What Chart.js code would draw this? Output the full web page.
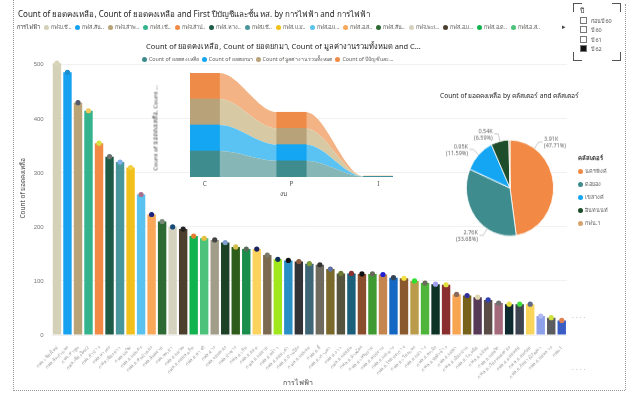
<!DOCTYPE html>
<html lang="th">
<head>
<meta charset="UTF-8">
<title>การไฟฟ้า</title>
<script src="https://cdn.jsdelivr.net/npm/chart.js@4.4.1/dist/chart.umd.min.js"></script>
<style>
  body { margin: 0; width: 629px; height: 396px; background: #fff; position: relative; overflow: hidden;
         font-family: "Noto Sans", "DejaVu Sans", sans-serif; color: #333; }
  .abs { position: absolute; white-space: nowrap; }
  canvas { position: absolute; }
  .dot { display: inline-block; width: 5px; height: 5px; border-radius: 50%; margin: 0 2px 0 4px; vertical-align: -0.5px; }
  .rot { transform: rotate(-90deg); transform-origin: center; }
</style>
</head>
<body>
<!-- frame of the visual -->
<div class="abs" style="left:13px;top:0;height:391px;border-left:1px dotted #9a9a9a"></div>
<div class="abs" style="left:13px;top:390px;width:612px;border-top:1px dotted #9a9a9a"></div>
<div class="abs" style="left:625px;top:4px;height:386px;border-left:1px dotted #9a9a9a"></div>

<canvas id="barras" width="629" height="396" style="left:0;top:0"></canvas>
<canvas id="ribbon" width="265" height="125" style="left:140px;top:68px"></canvas>
<canvas id="pastel" width="160" height="140" style="left:430px;top:120px;transform:scaleY(1.1);transform-origin:0 0"></canvas>

<div class="abs" style="left:18px;top:8px;font-size:8px;color:#252423">Count of ยอดคงเหลือ, Count of ยอดคงเหลือ and First ปีบัญชีและชั้น หส. by การไฟฟ้า and การไฟฟ้า</div>
<div class="abs" id="leyenda" style="left:17px;top:23px;font-size:5.5px;color:#605e5c"></div>
<div class="abs" style="left:562px;top:22px;font-size:7px;color:#444">▸</div>

<div class="abs rot" style="left:-22px;top:183px;width:90px;text-align:center;font-size:6.5px;color:#444">Count of ยอดคงเหลือ</div>
<div class="abs" style="left:283px;top:377px;font-size:7px;color:#444">การไฟฟ้า</div>
<div class="abs" style="left:572px;top:313px;font-size:7px;color:#bbb;letter-spacing:2px">····</div>
<div class="abs" style="left:572px;top:365px;font-size:7px;color:#bbb;letter-spacing:2px">····</div>

<div class="abs" style="left:146px;top:40px;font-size:7.5px;color:#252423">Count of ยอดคงเหลือ, Count of ยอดยกมา, Count of มูลค่างานรวมทั้งหมด and C...</div>
<div class="abs" id="leyendaRibbon" style="left:142px;top:55px;font-size:5.3px;color:#605e5c"></div>
<div class="abs rot" style="left:108px;top:123px;width:95px;text-align:center;font-size:6px;color:#444">Count of ยอดคงเหลือ, Count ...</div>
<div class="abs" style="left:280px;top:189px;font-size:6.5px;color:#444">งบ</div>

<div class="abs" style="left:440px;top:90px;font-size:6.6px;color:#252423">Count of ยอดคงเหลือ by คลัสเตอร์ and คลัสเตอร์</div>
<div class="abs" id="leyendaPastel" style="left:578px;top:152px;font-size:5.5px;color:#605e5c;line-height:13px"></div>

<!-- slicer -->
<div class="abs" style="left:573px;top:3px;width:8px;height:8px;border-left:1px solid #555;border-top:1px solid #555"></div>
<div class="abs" style="left:612px;top:3px;width:8px;height:8px;border-right:1px solid #555;border-top:1px solid #555"></div>
<div class="abs" style="left:573px;top:52px;width:8px;height:8px;border-left:1px solid #555;border-bottom:1px solid #555"></div>
<div class="abs" style="left:612px;top:52px;width:8px;height:8px;border-right:1px solid #555;border-bottom:1px solid #555"></div>
<div class="abs" id="slicer" style="left:580px;top:6px;font-size:5.5px;color:#555;line-height:9.5px"></div>

<script>
// ---- datos: conteo por การไฟฟ้า ----
const oficinas = ["กฟจ.เชียงใหม่", "กฟส.สันกำแพง", "กฟจ.ลำพูน", "กฟส.เชียงใหม่2", "กฟจ.ลำปาง", "กฟส.หางดง",
  "กฟส.เชียงดาว", "กฟส.แม่ริม", "กฟส.อ.แม่แตง", "กฟส.อ.สันป่าตอง", "กฟส.สันทราย", "กฟจ.พะเยา",
  "กฟส.อ.แม่ทะ", "กฟส.อ.ดอยสะเก็ด", "กฟส.อ.สารภี", "กฟส.ฝาง", "กฟส.จอมทอง", "กฟส.ป่าซาง",
  "กฟส.อ.เถิน", "กฟส.อ.ฮอด", "กฟส.อ.แม่อาย", "กฟส.อ.พร้าว", "กฟส.อ.ดอยเต่า", "กฟส.อ.บ้านโฮ่ง",
  "กฟส.อ.แม่แจ่ม", "กฟส.อ.ลี้", "กฟส.อ.เกาะคา", "กฟส.อ.งาว", "กฟส.อ.แม่ออน", "กฟส.อ.ห้างฉัตร",
  "กฟส.อ.เสริมงาม", "กฟส.อ.สบปราบ", "กฟส.อ.แม่เมาะ", "กฟส.อ.ไชยปราการ", "กฟส.อ.เวียงแหง", "กฟส.อ.แม่วาง",
  "กฟส.อ.สะเมิง", "กฟส.อ.ทุ่งหัวช้าง", "กฟส.อ.แม่ทา", "กฟส.อ.เมืองปาน", "กฟส.อ.วังเหนือ", "กฟส.อ.แจ้ห่ม",
  "กฟส.อ.แม่พริก", "กฟส.อ.เวียงหนองล่อง", "กฟส.อ.ดอยหล่อ", "กฟส.อ.อมก๋อย", "กฟส.อ.กัลยาณิวัฒนา", "กฟส.อ.บ่อหลวง",
  "กฟน.1"];
const conteo = [503, 486, 430, 415, 355, 330, 320, 310, 260, 223, 210, 200, 196, 183, 179, 176, 171, 163,
  159, 159, 148, 140, 138, 136, 132, 130, 122, 114, 114, 113, 113, 112, 106, 105, 100, 96, 94, 93,
  75, 73, 70, 65, 59, 57, 57, 57, 35, 32, 27];
const ticksY = [0, 100, 200, 300, 400, 500];

const coloresBarras = ["#d4d1b8", "#17a2f0", "#b9a477", "#34b38c", "#f28a45", "#1d5b46", "#48979b", "#f2c01b",
  "#59c2ef", "#f9a85a", "#2e6a34", "#d5d3bf", "#4c3f2e", "#10b34f", "#4dc27a", "#a29d88", "#1c4127",
  "#2e5d1b", "#1c8e4c", "#fdd35d", "#7b6a4f", "#a0e81b", "#2a8fc4", "#323337", "#3e6677", "#6f6a5e",
  "#7b692b", "#56543f", "#1b5f7b", "#8b4e2d", "#3e9a31", "#c4854f", "#1467c2", "#8a592d", "#b99b4b",
  "#4eb43a", "#0f3226", "#8b2e2f", "#f8a552", "#76621b", "#553956", "#5b4b47", "#a46a7c", "#0e2a2f",
  "#3e4550", "#fad55c", "#8da0ea", "#5a5c60", "#3a5cc5"];
const coloresPuntos = ["#d9d4b8", "#1a8fd0", "#555a6a", "#f5c85a", "#d8e040", "#6b7070", "#7fb0e8", "#f0d040",
  "#a8708a", "#1a237e", "#7a8a7a", "#1a4a7a", "#222222", "#e08030", "#e8c040", "#444444", "#7fa0d0",
  "#d8c050", "#5a6a5a", "#1a2060", "#7a7a6a", "#10305a", "#111111", "#8a5a3a", "#7a9a3a", "#333333",
  "#6070a0", "#6a7a30", "#8a3030", "#111111", "#6a6a5a", "#2020d0", "#334455", "#f0e040", "#30e030",
  "#6a6a5a", "#a0a0f0", "#e0e040", "#8a6a5a", "#3030a0", "#e0d8b0", "#3040b0", "#707070", "#e8e040",
  "#40e040", "#606a8a", "#b0b8f0", "#d0e040", "#e08050"];

// ---- datos: ribbon por งบ ----
const grupos = ["C", "P", "I"];
const seriesRibbon = ["Count of ยอดคงเหลือ", "Count of ยอดยกมา", "Count of มูลค่างานรวมทั้งหมด", "Count of ปีบัญชีและ..."];
const ribbonYodKong = [4980, 3100, 90];
const ribbonYodYok = [4980, 3100, 20];
const ribbonMulKha = [4980, 3100, 20];
const ribbonPiBanchi = [4980, 3100, 40];
const oscuros = ["#3f8c8e", "#14a6f2", "#b7a27a", "#ef8b48"];
const claros = ["#86b7b6", "#5bc3f3", "#d8c9a5", "#f4b384"];

// ---- datos: pastel por คลัสเตอร์ ----
const clusters = ["นครพิงค์", "ดอยอง", "เขลางค์", "อินทนนท์", "กฟน.1"];
const conteoCluster = [3910, 2760, 950, 540, 35];
const coloresCluster = ["#f28a45", "#3f8c8e", "#14a6f2", "#1e4d2b", "#d8a36e"];

// ---- leyendas html ----
const corta = s => s.length > 7 ? s.slice(0, 7) + ".." : s;
let html = '<span style="color:#333">การไฟฟ้า</span>';
for (let i = 0; i < 15; i++) {
  html += '<span class="dot" style="background:' + coloresBarras[i] + '"></span>' + corta(oficinas[i]);
}
document.getElementById("leyenda").innerHTML = html;

document.getElementById("leyendaRibbon").innerHTML = seriesRibbon.map((s, i) =>
  '<span class="dot" style="background:' + oscuros[i] + ';margin-left:' + (i ? 3 : 0) + 'px"></span>' + s).join("");

document.getElementById("leyendaPastel").innerHTML = '<b style="color:#333;font-size:6px">คลัสเตอร์</b><br>' +
  clusters.map((c, i) => '<span class="dot" style="background:' + coloresCluster[i] + ';margin-left:0"></span>' + c).join("<br>");

const anios = ["ก่อนปี 60", "ปี 60", "ปี 61", "ปี 62"];
document.getElementById("slicer").innerHTML = '<span style="font-size:7px;color:#333">ปี</span><br>' +
  anios.map((a, i) => '<span style="display:inline-block;width:5px;height:5px;border:1px solid #777;margin-right:4px;vertical-align:-1px;background:' +
    (i === 3 ? '#111' : '#fff') + '"></span>' + a).join("<br>");

// ---- grafica de barras ----
new Chart(document.getElementById("barras"), {
  data: {
    labels: oficinas,
    datasets: [
      { type: "line", data: conteo, showLine: false, pointRadius: 2.6, pointBorderWidth: 0,
        pointBackgroundColor: coloresPuntos, order: 0 },
      { type: "bar", data: conteo, backgroundColor: coloresBarras, barPercentage: 0.8,
        categoryPercentage: 1, order: 1 }
    ]
  },
  options: {
    responsive: false, animation: false,
    layout: { padding: { left: 0, right: 62, top: 54, bottom: 16 } },
    plugins: { legend: { display: false }, tooltip: { enabled: false } },
    scales: {
      x: {
        grid: { display: false }, border: { display: false },
        ticks: { minRotation: 45, maxRotation: 45, autoSkip: false, padding: 2,
                 font: { size: 4.6, family: "Noto Sans, DejaVu Sans, sans-serif" }, color: "#9a9a9a" },
        afterFit: s => { s.height = 45; }
      },
      y: {
        min: 0, max: 520,
        grid: { color: "#f1f1f1", drawTicks: false }, border: { display: false },
        ticks: { stepSize: 100, padding: 8, font: { size: 6 }, color: "#777" },
        afterBuildTicks: s => { s.ticks = ticksY.map(v => ({ value: v })); },
        afterFit: s => { s.width = 51.7; }
      }
    }
  }
});

// ---- ribbon chart ----
const media = 0.17; // mitad del ancho de cada bloque
const valoresRibbon = [ribbonYodKong, ribbonYodYok, ribbonMulKha, ribbonPiBanchi];
const bandas = valoresRibbon.map((v, k) => ({
  type: "line", order: 1,
  data: grupos.flatMap((g, i) => [{ x: i - media, y: v[i] }, { x: i + media, y: v[i] }]),
  backgroundColor: claros[k], borderWidth: 0, pointRadius: 0,
  cubicInterpolationMode: "monotone", fill: k === 0 ? "origin" : "-1"
}));
const bloques = valoresRibbon.map((v, k) => ({
  type: "bar", order: 0, stack: "bloques",
  data: grupos.map((g, i) => ({ x: i, y: v[i] })),
  backgroundColor: oscuros[k], barThickness: 29.5
}));
const totalC = valoresRibbon.reduce((a, v) => a + v[0], 0);

// etiquetas C / P / I bajo cada bloque
const etiquetasGrupos = {
  id: "etiquetasGrupos",
  afterDraw(chart) {
    const ctx = chart.ctx, x = chart.scales.x;
    ctx.save();
    ctx.font = "6.5px Noto Sans, DejaVu Sans, sans-serif";
    ctx.fillStyle = "#555";
    ctx.textAlign = "center";
    ctx.textBaseline = "top";
    grupos.forEach((g, i) => ctx.fillText(g, x.getPixelForValue(i), chart.chartArea.bottom + 4));
    ctx.restore();
  }
};

new Chart(document.getElementById("ribbon"), {
  data: { datasets: bandas.concat(bloques) },
  options: {
    responsive: false, animation: false,
    layout: { padding: { left: 50, right: 12, top: 5, bottom: 16 } },
    plugins: { legend: { display: false }, tooltip: { enabled: false } },
    scales: {
      x: { type: "linear", display: false, min: -media, max: 2 + media, offset: false },
      y: { display: false, stacked: true, min: 0, max: totalC }
    }
  },
  plugins: [etiquetasGrupos]
});

// ---- pastel ----
const anguloEtiqueta = [0.2, 0.33, 0.5, 0.5]; // posicion de la etiqueta dentro de cada porcion
const etiquetasPastel = {
  id: "etiquetasPastel",
  afterDraw(chart) {
    const ctx = chart.ctx;
    const arcs = chart.getDatasetMeta(0).data;
    const total = conteoCluster.reduce((a, b) => a + b, 0);
    ctx.save();
    ctx.font = "5.5px Noto Sans, DejaVu Sans, sans-serif";
    ctx.fillStyle = "#666";
    ctx.strokeStyle = "#aaa";
    ctx.lineWidth = 0.6;
    arcs.forEach((arc, i) => {
      if (i >= anguloEtiqueta.length) return;
      const a = arc.startAngle + (arc.endAngle - arc.startAngle) * anguloEtiqueta[i];
      const r = arc.outerRadius;
      const x0 = arc.x + Math.cos(a) * r, y0 = arc.y + Math.sin(a) * r;
      const x1 = arc.x + Math.cos(a) * (r + 7), y1 = arc.y + Math.sin(a) * (r + 7);
      const der = Math.cos(a) >= 0;
      const x2 = x1 + (der ? 4 : -4);
      ctx.beginPath(); ctx.moveTo(x0, y0); ctx.lineTo(x1, y1); ctx.lineTo(x2, y1); ctx.stroke();
      ctx.textAlign = der ? "left" : "right";
      const tx = x2 + (der ? 1.5 : -1.5);
      const v = conteoCluster[i];
      ctx.fillText((v / 1000).toFixed(2) + "K", tx, y1 - 1);
      ctx.fillText("(" + (v / total * 100).toFixed(2) + "%)", tx, y1 + 5);
    });
    ctx.restore();
  }
};

new Chart(document.getElementById("pastel"), {
  type: "pie",
  data: { labels: clusters, datasets: [{ data: conteoCluster, backgroundColor: coloresCluster,
    borderColor: "#fff", borderWidth: 0.8 }] },
  options: {
    responsive: false, animation: false,
    layout: { padding: { left: 36, right: 36, top: 17.8, bottom: 34.2 } },
    plugins: { legend: { display: false }, tooltip: { enabled: false } }
  },
  plugins: [etiquetasPastel]
});
</script>
</body>
</html>
